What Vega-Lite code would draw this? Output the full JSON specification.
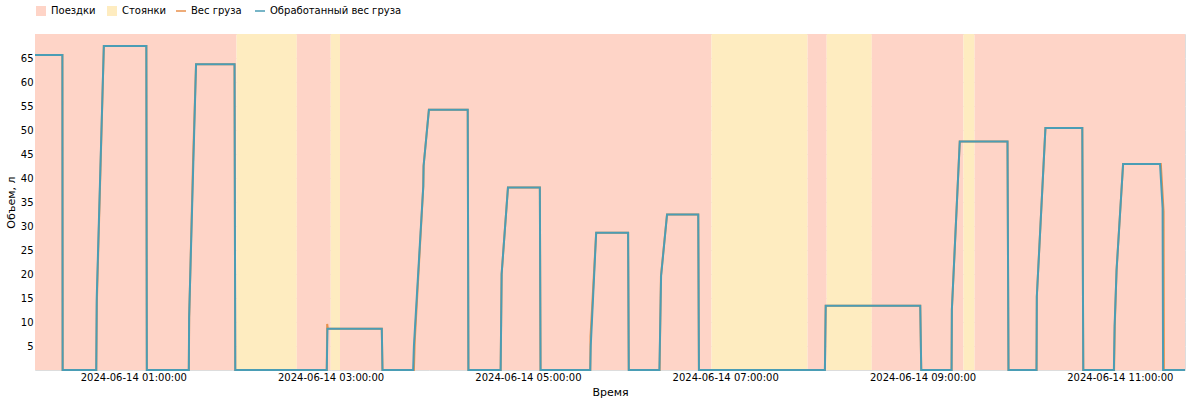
{
  "$schema": "https://vega.github.io/schema/vega-lite/v6.json",
  "autosize": {"type": "fit", "contains": "padding"},
  "width": 1194,
  "height": 402,
  "datasets": {
    "segments": [
      {"start": "2024-06-14T00:00:13", "end": "2024-06-14T02:02:48", "kind": "Поездки"},
      {"start": "2024-06-14T02:02:48", "end": "2024-06-14T02:39:27", "kind": "Стоянки"},
      {"start": "2024-06-14T02:39:27", "end": "2024-06-14T03:00:04", "kind": "Поездки"},
      {"start": "2024-06-14T03:00:04", "end": "2024-06-14T03:05:43", "kind": "Стоянки"},
      {"start": "2024-06-14T03:05:43", "end": "2024-06-14T06:51:39", "kind": "Поездки"},
      {"start": "2024-06-14T06:51:39", "end": "2024-06-14T07:50:07", "kind": "Стоянки"},
      {"start": "2024-06-14T07:50:07", "end": "2024-06-14T08:01:42", "kind": "Поездки"},
      {"start": "2024-06-14T08:01:42", "end": "2024-06-14T08:29:10", "kind": "Стоянки"},
      {"start": "2024-06-14T08:29:10", "end": "2024-06-14T09:24:53", "kind": "Поездки"},
      {"start": "2024-06-14T09:24:53", "end": "2024-06-14T09:31:40", "kind": "Стоянки"},
      {"start": "2024-06-14T09:31:40", "end": "2024-06-14T11:39:38", "kind": "Поездки"}
    ],
    "weights": [
      {"time": "2024-06-14T00:00:13", "series": "Вес груза", "value": 65.6},
      {"time": "2024-06-14T00:16:52", "series": "Вес груза", "value": 65.6},
      {"time": "2024-06-14T00:17:02", "series": "Вес груза", "value": 0},
      {"time": "2024-06-14T00:37:28", "series": "Вес груза", "value": 0},
      {"time": "2024-06-14T00:37:50", "series": "Вес груза", "value": 14},
      {"time": "2024-06-14T00:42:05", "series": "Вес груза", "value": 67.5},
      {"time": "2024-06-14T01:07:56", "series": "Вес груза", "value": 67.5},
      {"time": "2024-06-14T01:08:14", "series": "Вес груза", "value": 0},
      {"time": "2024-06-14T01:33:46", "series": "Вес груза", "value": 0},
      {"time": "2024-06-14T01:34:00", "series": "Вес груза", "value": 11},
      {"time": "2024-06-14T01:36:20", "series": "Вес груза", "value": 43.5},
      {"time": "2024-06-14T01:38:10", "series": "Вес груза", "value": 63.7},
      {"time": "2024-06-14T02:01:35", "series": "Вес груза", "value": 63.7},
      {"time": "2024-06-14T02:02:01", "series": "Вес груза", "value": 0},
      {"time": "2024-06-14T02:57:40", "series": "Вес груза", "value": 0},
      {"time": "2024-06-14T02:57:55", "series": "Вес груза", "value": 9.6},
      {"time": "2024-06-14T02:58:20", "series": "Вес груза", "value": 8.6},
      {"time": "2024-06-14T03:31:08", "series": "Вес груза", "value": 8.6},
      {"time": "2024-06-14T03:31:33", "series": "Вес груза", "value": 0},
      {"time": "2024-06-14T03:50:40", "series": "Вес груза", "value": 0},
      {"time": "2024-06-14T03:51:10", "series": "Вес груза", "value": 6},
      {"time": "2024-06-14T03:56:22", "series": "Вес груза", "value": 38.3},
      {"time": "2024-06-14T03:56:33", "series": "Вес груза", "value": 42.5},
      {"time": "2024-06-14T03:59:47", "series": "Вес груза", "value": 54.2},
      {"time": "2024-06-14T04:23:24", "series": "Вес груза", "value": 54.2},
      {"time": "2024-06-14T04:23:49", "series": "Вес груза", "value": 0},
      {"time": "2024-06-14T04:43:25", "series": "Вес груза", "value": 0},
      {"time": "2024-06-14T04:44:01", "series": "Вес груза", "value": 20},
      {"time": "2024-06-14T04:47:52", "series": "Вес груза", "value": 38.0},
      {"time": "2024-06-14T05:07:16", "series": "Вес груза", "value": 38.0},
      {"time": "2024-06-14T05:07:41", "series": "Вес груза", "value": 0},
      {"time": "2024-06-14T05:37:55", "series": "Вес груза", "value": 0},
      {"time": "2024-06-14T05:38:05", "series": "Вес груза", "value": 7},
      {"time": "2024-06-14T05:41:31", "series": "Вес груза", "value": 28.6},
      {"time": "2024-06-14T06:00:56", "series": "Вес груза", "value": 28.6},
      {"time": "2024-06-14T06:01:21", "series": "Вес груза", "value": 0},
      {"time": "2024-06-14T06:20:05", "series": "Вес груза", "value": 0},
      {"time": "2024-06-14T06:20:55", "series": "Вес груза", "value": 19.6},
      {"time": "2024-06-14T06:24:37", "series": "Вес груза", "value": 32.4},
      {"time": "2024-06-14T06:43:36", "series": "Вес груза", "value": 32.4},
      {"time": "2024-06-14T06:44:01", "series": "Вес груза", "value": 0},
      {"time": "2024-06-14T08:00:38", "series": "Вес груза", "value": 0},
      {"time": "2024-06-14T08:01:07", "series": "Вес груза", "value": 13.4},
      {"time": "2024-06-14T08:58:37", "series": "Вес груза", "value": 13.4},
      {"time": "2024-06-14T08:59:13", "series": "Вес груза", "value": 0},
      {"time": "2024-06-14T09:17:40", "series": "Вес груза", "value": 0},
      {"time": "2024-06-14T09:17:51", "series": "Вес груза", "value": 12.6},
      {"time": "2024-06-14T09:22:39", "series": "Вес груза", "value": 47.6},
      {"time": "2024-06-14T09:51:41", "series": "Вес груза", "value": 47.6},
      {"time": "2024-06-14T09:52:17", "series": "Вес груза", "value": 0},
      {"time": "2024-06-14T10:09:20", "series": "Вес груза", "value": 0},
      {"time": "2024-06-14T10:09:31", "series": "Вес груза", "value": 15.3},
      {"time": "2024-06-14T10:14:45", "series": "Вес груза", "value": 50.4},
      {"time": "2024-06-14T10:37:10", "series": "Вес груза", "value": 50.4},
      {"time": "2024-06-14T10:37:46", "series": "Вес груза", "value": 0},
      {"time": "2024-06-14T10:56:30", "series": "Вес груза", "value": 0},
      {"time": "2024-06-14T10:56:55", "series": "Вес груза", "value": 9.1},
      {"time": "2024-06-14T10:58:01", "series": "Вес груза", "value": 20.8},
      {"time": "2024-06-14T11:01:59", "series": "Вес груза", "value": 42.9},
      {"time": "2024-06-14T11:24:56", "series": "Вес груза", "value": 42.9},
      {"time": "2024-06-14T11:26:37", "series": "Вес груза", "value": 33.0},
      {"time": "2024-06-14T11:26:48", "series": "Вес груза", "value": 0},
      {"time": "2024-06-14T11:39:38", "series": "Вес груза", "value": 0},
      {"time": "2024-06-14T00:00:13", "series": "Обработанный вес груза", "value": 65.6},
      {"time": "2024-06-14T00:16:52", "series": "Обработанный вес груза", "value": 65.6},
      {"time": "2024-06-14T00:17:02", "series": "Обработанный вес груза", "value": 0},
      {"time": "2024-06-14T00:37:28", "series": "Обработанный вес груза", "value": 0},
      {"time": "2024-06-14T00:37:46", "series": "Обработанный вес груза", "value": 15},
      {"time": "2024-06-14T00:42:05", "series": "Обработанный вес груза", "value": 67.5},
      {"time": "2024-06-14T01:07:56", "series": "Обработанный вес груза", "value": 67.5},
      {"time": "2024-06-14T01:08:14", "series": "Обработанный вес груза", "value": 0},
      {"time": "2024-06-14T01:33:46", "series": "Обработанный вес груза", "value": 0},
      {"time": "2024-06-14T01:33:57", "series": "Обработанный вес груза", "value": 11},
      {"time": "2024-06-14T01:36:32", "series": "Обработанный вес груза", "value": 43.5},
      {"time": "2024-06-14T01:38:10", "series": "Обработанный вес груза", "value": 63.7},
      {"time": "2024-06-14T02:01:35", "series": "Обработанный вес груза", "value": 63.7},
      {"time": "2024-06-14T02:02:01", "series": "Обработанный вес груза", "value": 0},
      {"time": "2024-06-14T02:57:40", "series": "Обработанный вес груза", "value": 0},
      {"time": "2024-06-14T02:58:05", "series": "Обработанный вес груза", "value": 8.6},
      {"time": "2024-06-14T03:31:08", "series": "Обработанный вес груза", "value": 8.6},
      {"time": "2024-06-14T03:31:33", "series": "Обработанный вес груза", "value": 0},
      {"time": "2024-06-14T03:50:11", "series": "Обработанный вес груза", "value": 0},
      {"time": "2024-06-14T03:50:40", "series": "Обработанный вес груза", "value": 5},
      {"time": "2024-06-14T03:56:22", "series": "Обработанный вес груза", "value": 38.3},
      {"time": "2024-06-14T03:56:33", "series": "Обработанный вес груза", "value": 42.5},
      {"time": "2024-06-14T03:59:47", "series": "Обработанный вес груза", "value": 54.2},
      {"time": "2024-06-14T04:23:24", "series": "Обработанный вес груза", "value": 54.2},
      {"time": "2024-06-14T04:23:49", "series": "Обработанный вес груза", "value": 0},
      {"time": "2024-06-14T04:43:25", "series": "Обработанный вес груза", "value": 0},
      {"time": "2024-06-14T04:44:01", "series": "Обработанный вес груза", "value": 20},
      {"time": "2024-06-14T04:47:52", "series": "Обработанный вес груза", "value": 38.0},
      {"time": "2024-06-14T05:07:16", "series": "Обработанный вес груза", "value": 38.0},
      {"time": "2024-06-14T05:07:41", "series": "Обработанный вес груза", "value": 0},
      {"time": "2024-06-14T05:37:55", "series": "Обработанный вес груза", "value": 0},
      {"time": "2024-06-14T05:38:13", "series": "Обработанный вес груза", "value": 5},
      {"time": "2024-06-14T05:41:31", "series": "Обработанный вес груза", "value": 28.6},
      {"time": "2024-06-14T06:00:56", "series": "Обработанный вес груза", "value": 28.6},
      {"time": "2024-06-14T06:01:21", "series": "Обработанный вес груза", "value": 0},
      {"time": "2024-06-14T06:19:59", "series": "Обработанный вес груза", "value": 0},
      {"time": "2024-06-14T06:21:00", "series": "Обработанный вес груза", "value": 19.6},
      {"time": "2024-06-14T06:24:37", "series": "Обработанный вес груза", "value": 32.4},
      {"time": "2024-06-14T06:43:36", "series": "Обработанный вес груза", "value": 32.4},
      {"time": "2024-06-14T06:44:01", "series": "Обработанный вес груза", "value": 0},
      {"time": "2024-06-14T08:00:38", "series": "Обработанный вес груза", "value": 0},
      {"time": "2024-06-14T08:01:07", "series": "Обработанный вес груза", "value": 13.4},
      {"time": "2024-06-14T08:58:37", "series": "Обработанный вес груза", "value": 13.4},
      {"time": "2024-06-14T08:59:13", "series": "Обработанный вес груза", "value": 0},
      {"time": "2024-06-14T09:17:40", "series": "Обработанный вес груза", "value": 0},
      {"time": "2024-06-14T09:17:51", "series": "Обработанный вес груза", "value": 12.6},
      {"time": "2024-06-14T09:22:39", "series": "Обработанный вес груза", "value": 47.6},
      {"time": "2024-06-14T09:51:41", "series": "Обработанный вес груза", "value": 47.6},
      {"time": "2024-06-14T09:52:17", "series": "Обработанный вес груза", "value": 0},
      {"time": "2024-06-14T10:09:20", "series": "Обработанный вес груза", "value": 0},
      {"time": "2024-06-14T10:09:31", "series": "Обработанный вес груза", "value": 15.3},
      {"time": "2024-06-14T10:14:45", "series": "Обработанный вес груза", "value": 50.4},
      {"time": "2024-06-14T10:37:10", "series": "Обработанный вес груза", "value": 50.4},
      {"time": "2024-06-14T10:37:46", "series": "Обработанный вес груза", "value": 0},
      {"time": "2024-06-14T10:56:23", "series": "Обработанный вес груза", "value": 0},
      {"time": "2024-06-14T10:56:49", "series": "Обработанный вес груза", "value": 9.1},
      {"time": "2024-06-14T10:58:01", "series": "Обработанный вес груза", "value": 20.8},
      {"time": "2024-06-14T11:01:59", "series": "Обработанный вес груза", "value": 42.9},
      {"time": "2024-06-14T11:24:27", "series": "Обработанный вес груза", "value": 42.9},
      {"time": "2024-06-14T11:26:01", "series": "Обработанный вес груза", "value": 33.7},
      {"time": "2024-06-14T11:26:18", "series": "Обработанный вес груза", "value": 0},
      {"time": "2024-06-14T11:39:38", "series": "Обработанный вес груза", "value": 0}
    ]
  },
  "layer": [
    {
      "data": {"name": "segments"},
      "mark": {"type": "rect"},
      "encoding": {
        "x": {"field": "start", "type": "temporal"},
        "x2": {"field": "end"},
        "fill": {
          "field": "kind",
          "type": "nominal",
          "title": null,
          "scale": {"domain": ["Поездки", "Стоянки"], "range": ["#fed4c7", "#feecc0"]}
        }
      }
    },
    {
      "data": {"name": "weights"},
      "mark": {"type": "line", "strokeWidth": 2},
      "encoding": {
        "x": {
          "field": "time",
          "type": "temporal",
          "title": "Время",
          "axis": {"format": "%Y-%m-%d %H:%M:%S", "tickCount": 12}
        },
        "y": {
          "field": "value",
          "type": "quantitative",
          "title": "Объем, л",
          "scale": {"domain": [0, 70]},
          "axis": {"values": [5, 10, 15, 20, 25, 30, 35, 40, 45, 50, 55, 60, 65]}
        },
        "stroke": {
          "field": "series",
          "type": "nominal",
          "title": null,
          "scale": {"domain": ["Вес груза", "Обработанный вес груза"], "range": ["#e8914c", "#4a9db5"]}
        }
      }
    }
  ],
  "config": {
    "font": "DejaVu Sans",
    "axis": {
      "domain": false,
      "ticks": false,
      "gridColor": "#e8e8e8",
      "labelColor": "#000",
      "titleColor": "#000",
      "titleFontWeight": "normal"
    },
    "legend": {"orient": "top", "labelColor": "#000"}
  }
}
